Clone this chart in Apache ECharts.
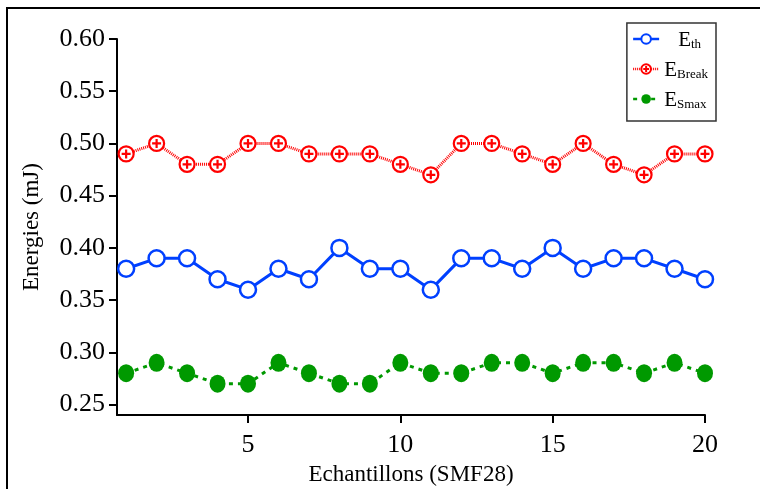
<!DOCTYPE html>
<html><head><meta charset="utf-8">
<script src="https://cdn.jsdelivr.net/npm/echarts@6/dist/echarts.min.js"></script>
<style>html,body{margin:0;padding:0;background:#fff}#c{width:760px;height:489px}</style>
</head><body><div id="c"></div>
<script>
const samples = [1,2,3,4,5,6,7,8,9,10,11,12,13,14,15,16,17,18,19,20];
const eTh    = [0.38,0.39,0.39,0.37,0.36,0.38,0.37,0.40,0.38,0.38,0.36,0.39,0.39,0.38,0.40,0.38,0.39,0.39,0.38,0.37];
const eBreak = [0.49,0.50,0.48,0.48,0.50,0.50,0.49,0.49,0.49,0.48,0.47,0.50,0.50,0.49,0.48,0.50,0.48,0.47,0.49,0.49];
const eSmax  = [0.28,0.29,0.28,0.27,0.27,0.29,0.28,0.27,0.27,0.29,0.28,0.28,0.29,0.29,0.28,0.29,0.29,0.28,0.29,0.28];
const yTicks = [0.25,0.30,0.35,0.40,0.45,0.50,0.55,0.60];
const xTicks = [5,10,15,20];
const names = {E_th:['E','th'], E_Break:['E','Break'], E_Smax:['E','Smax']};

const pair = (vals) => samples.map((x,i)=>[x, vals[i]]);
const FONT = 'Liberation Serif';
const plusCircle = 'path://M0,-10 A10,10 0 1,1 0,10 A10,10 0 1,1 0,-10 Z M-6,0 L6,0 M0,-6 L0,6';

const chart = echarts.init(document.getElementById('c'), null, {renderer:'canvas'});
chart.setOption({
  animation:false,
  backgroundColor:'#fff',
  textStyle:{fontFamily:FONT},
  graphic:[{type:'rect', shape:{x:7,y:8,width:800,height:600}, style:{fill:'none', stroke:'#000', lineWidth:2}, silent:true}],
  grid:{left:117, right:55, top:39, bottom:74, containLabel:false, outerBoundsMode:'none'},
  legend:{
    orient:'vertical', right:44, top:23,
    borderColor:'#333', borderWidth:1.5, padding:[7,8,10,5],
    itemGap:9, itemWidth:26, itemHeight:12,
    lineStyle:{width:2.5},
    data:[{name:'E_th', textStyle:{padding:[0,0,0,14]}},'E_Break','E_Smax'],
    formatter:(n)=>'{e|'+names[n][0]+'}{s|'+names[n][1]+'}',
    textStyle:{fontFamily:FONT, color:'#000', rich:{
      e:{fontSize:21, fontFamily:FONT, lineHeight:24, verticalAlign:'bottom'},
      s:{fontSize:13, fontFamily:FONT, lineHeight:13, verticalAlign:'bottom', padding:[6,0,0,0]}
    }}
  },
  xAxis:{
    type:'value', min:0.7, max:20,
    name:'Echantillons (SMF28)', nameLocation:'middle', nameGap:48,
    nameTextStyle:{fontFamily:FONT, fontSize:23, color:'#000'},
    axisLine:{show:true, onZero:false, lineStyle:{color:'#000', width:2}},
    axisTick:{show:true, length:8, lineStyle:{color:'#000', width:2}, customValues:xTicks},
    axisLabel:{fontFamily:FONT, fontSize:26, color:'#000', margin:17, customValues:xTicks},
    splitLine:{show:false}
  },
  yAxis:{
    type:'value', min:0.24, max:0.60,
    name:'Energies (mJ)', nameLocation:'middle', nameGap:74,
    nameTextStyle:{fontFamily:FONT, fontSize:23, color:'#000'},
    axisLine:{show:true, onZero:false, lineStyle:{color:'#000', width:2}},
    axisTick:{show:true, length:8, lineStyle:{color:'#000', width:2}, customValues:yTicks},
    axisLabel:{fontFamily:FONT, fontSize:26, color:'#000', margin:12, customValues:yTicks, formatter:(v)=>v.toFixed(2)},
    splitLine:{show:false}
  },
  series:[
    {name:'E_th', type:'line', data:pair(eTh), symbol:'circle', symbolSize:16,
     lineStyle:{color:'#0040ff', width:3, type:'solid'},
     itemStyle:{color:'#fff', borderColor:'#0040ff', borderWidth:2.5}},
    {name:'E_Break', type:'line', data:pair(eBreak), symbol:plusCircle, symbolSize:15,
     lineStyle:{color:'#ff0000', width:3, type:[1,1]},
     itemStyle:{color:'#fff', borderColor:'#ff0000', borderWidth:2.2}},
    {name:'E_Smax', type:'line', data:pair(eSmax), symbol:'circle', symbolSize:[16,18],
     lineStyle:{color:'#009900', width:3, type:[4,5]},
     itemStyle:{color:'#009900', borderWidth:0}}
  ]
});
</script></body></html>
